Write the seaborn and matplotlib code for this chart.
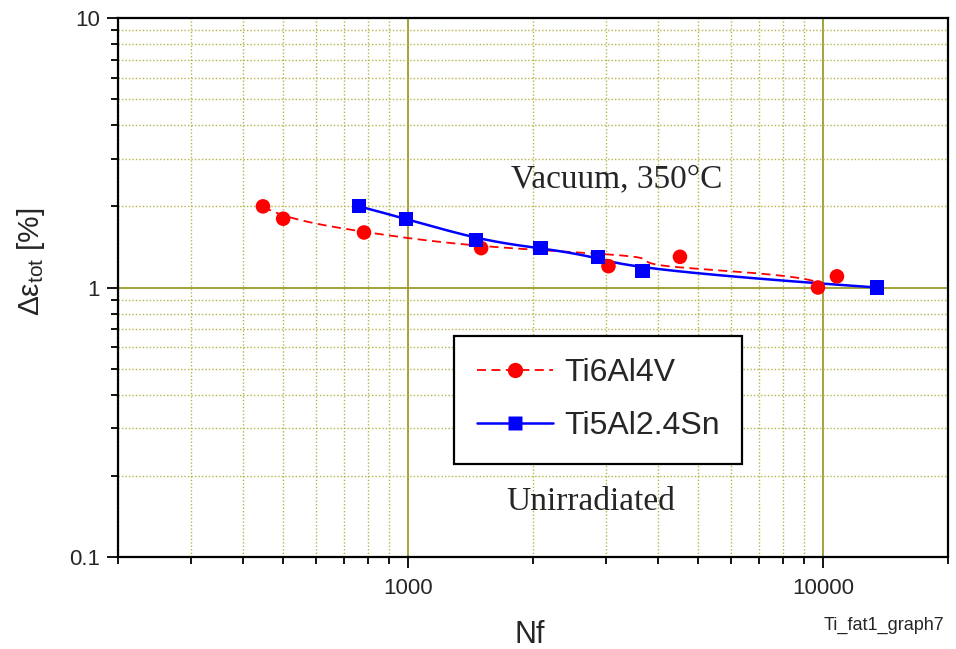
import numpy as np
import pandas as pd
import matplotlib
matplotlib.use("Agg")
import matplotlib.pyplot as plt
from matplotlib import font_manager
from matplotlib.lines import Line2D
from matplotlib.ticker import LogLocator, NullFormatter, FixedLocator, FixedFormatter
import seaborn as sns

# ---------------- data (worksheet order: by strain range) ----------------
ti64_nf = [447, 500, 783, 1500, 4520, 3040, 10800, 9720]
ti64_de = [2.0, 1.8, 1.6, 1.4, 1.3, 1.2, 1.1, 1.0]
ti5_nf = [762, 990, 1460, 2085, 2864, 3673, 13490]
ti5_de = [2.0, 1.8, 1.5, 1.4, 1.3, 1.15, 1.0]
series_names = ["Ti6Al4V", "Ti5Al2.4Sn"]
x_ticks = [1000, 10000]
x_ticklabels = ["1000", "10000"]
y_ticks = [0.1, 1, 10]
y_ticklabels = ["0.1", "1", "10"]

sns.set_style("white")
names = {f.name for f in font_manager.fontManager.ttflist}
narrow = "Liberation Sans Narrow" if "Liberation Sans Narrow" in names else "Liberation Sans"
plt.rcParams["font.family"] = ["Liberation Sans", "DejaVu Sans"]
plt.rcParams["mathtext.fontset"] = "custom"
plt.rcParams["mathtext.rm"] = "Liberation Sans"
plt.rcParams["mathtext.it"] = "Liberation Sans"


def bspline(xs, ys, n=400, k=3):
    # clamped B-spline connection with the data as control points, log-log space
    P = np.column_stack([np.log10(xs), np.log10(ys)])
    m = len(P)
    knots = np.concatenate([np.zeros(k), np.linspace(0, 1, m - k + 1), np.ones(k)])
    t = np.linspace(0, 1 - 1e-9, n)

    def basis(i, d, tt):
        if d == 0:
            return ((knots[i] <= tt) & (tt < knots[i + 1])).astype(float)
        a = 0.0
        b = 0.0
        if knots[i + d] != knots[i]:
            a = (tt - knots[i]) / (knots[i + d] - knots[i]) * basis(i, d - 1, tt)
        if knots[i + d + 1] != knots[i + 1]:
            b = (knots[i + d + 1] - tt) / (knots[i + d + 1] - knots[i + 1]) * basis(i + 1, d - 1, tt)
        return a + b

    B = np.array([basis(i, k, t) for i in range(m)])
    C = B.T @ P
    C = np.vstack([C, P[-1]])
    return 10 ** C[:, 0], 10 ** C[:, 1]


fig = plt.figure(figsize=(9.56, 6.49), dpi=100)
ax = fig.add_axes([118 / 956, 1 - 557 / 649, 830 / 956, 539 / 649])
ax.set_xscale("log")
ax.set_yscale("log")
ax.set_xlim(200, 20000)
ax.set_ylim(0.1, 10)

olive = "#9c9c2a"
ax.grid(True, which="major", color=olive, lw=1.3, ls="-", zorder=0)
ax.grid(True, which="minor", color="#b4b44a", lw=1.0, ls=(0, (1, 1.5)), zorder=0)
ax.set_axisbelow(True)

rx, ry = bspline(ti64_nf, ti64_de)
bx, by = bspline(ti5_nf, ti5_de)
red_curve = pd.DataFrame({"Nf": rx, "de": ry})
blue_curve = pd.DataFrame({"Nf": bx, "de": by})
sns.lineplot(data=red_curve, x="Nf", y="de", ax=ax, color="#ff0000", lw=1.3,
             sort=False, estimator=None, zorder=3)
ax.lines[-1].set_linestyle((0, (5, 3)))
sns.lineplot(data=blue_curve, x="Nf", y="de", ax=ax, color="#0000ff", lw=1.8,
             sort=False, estimator=None, zorder=3)

d64 = pd.DataFrame({"Nf": ti64_nf, "de": ti64_de})
d5 = pd.DataFrame({"Nf": ti5_nf, "de": ti5_de})
sns.scatterplot(data=d64, x="Nf", y="de", ax=ax, color="#ff0000", marker="o", s=110,
                edgecolor="none", zorder=4)
sns.scatterplot(data=d5, x="Nf", y="de", ax=ax, color="#0000ff", marker="s", s=105,
                edgecolor="none", zorder=4)

ax.xaxis.set_major_locator(FixedLocator(x_ticks))
ax.xaxis.set_major_formatter(FixedFormatter(x_ticklabels))
ax.xaxis.set_minor_locator(LogLocator(base=10, subs=np.arange(2, 10)))
ax.xaxis.set_minor_formatter(NullFormatter())
ax.yaxis.set_major_locator(FixedLocator(y_ticks))
ax.yaxis.set_major_formatter(FixedFormatter(y_ticklabels))
ax.yaxis.set_minor_locator(LogLocator(base=10, subs=np.arange(2, 10)))
ax.yaxis.set_minor_formatter(NullFormatter())

ax.tick_params(axis="both", which="major", direction="out", length=8, width=1.3,
               color="black", bottom=True, left=True, top=False, right=False)
ax.tick_params(axis="both", which="minor", direction="out", length=5, width=1.3,
               color="black", bottom=True, left=True, top=False, right=False)
ax.tick_params(axis="x", which="major", pad=7, labelsize=16)
ax.tick_params(axis="y", which="major", pad=5, labelsize=16)
for lab in ax.get_xticklabels():
    lab.set_family([narrow, "Liberation Sans"])

for s in ax.spines.values():
    s.set_visible(True)
    s.set_color("black")
    s.set_linewidth(1.6)

ax.set_xlabel("Nf", fontsize=22, family=[narrow, "Liberation Sans"])
ax.xaxis.set_label_coords(0.496, -0.117)
ax.xaxis.label.set_va("top")
ax.set_ylabel(r"$\Delta\varepsilon_{\mathrm{tot}}$ [%]", fontsize=21.5)
ax.yaxis.set_label_coords(-0.0855, 0.547)

ax.text(0.601, 0.686, "Vacuum, 350°C", transform=ax.transAxes, ha="center",
        va="baseline", fontsize=24, family=["Liberation Serif", "DejaVu Serif"])
ax.text(0.569, 0.087, "Unirradiated", transform=ax.transAxes, ha="center",
        va="baseline", fontsize=24, family=["Liberation Serif", "DejaVu Serif"])

handles = [
    Line2D([], [], color="#ff0000", lw=1.3, ls=(0, (5, 3)), marker="o", markersize=11,
           markeredgecolor="none"),
    Line2D([], [], color="#0000ff", lw=1.8, ls="-", marker="s", markersize=10,
           markeredgecolor="none"),
]
leg = ax.legend(handles, series_names, loc="upper left", bbox_to_anchor=(0.405, 0.41),
                frameon=True, fancybox=False, fontsize=23, handlelength=2.4,
                handletextpad=0.35, borderpad=0.7, labelspacing=0.72, borderaxespad=0)
leg.get_frame().set_edgecolor("black")
leg.get_frame().set_linewidth(1.6)
leg.get_frame().set_facecolor("white")
leg.get_frame().set_alpha(1)
leg.set_zorder(5)

fig.text(0.862, 0.037, "Ti_fat1_graph7", ha="left", va="center", fontsize=13,
         family=[narrow, "Liberation Sans"])

fig.savefig("out.png", dpi=100, facecolor="white")
